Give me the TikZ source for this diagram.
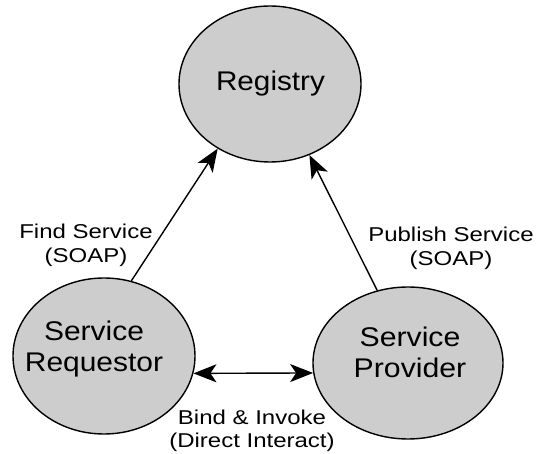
\documentclass[tikz,border=0pt]{standalone}
\usepackage{graphicx}
\usepackage{fontspec}
\setmainfont{Liberation Sans}
\usetikzlibrary{shapes.geometric,arrows.meta}
\definecolor{nodefill}{HTML}{CDCDCD}
\newcommand{\hstretch}[2]{\scalebox{#1}[1]{#2}}
\begin{document}
\begin{tikzpicture}[x=1pt,y=-1pt,
  >={Stealth[length=23pt,width=18pt,inset=6pt]},
  actor/.style={ellipse, draw=black, line width=1.4pt, fill=nodefill, inner sep=0pt},
  bigtext/.style={font=\fontsize{27}{31}\selectfont, align=center, anchor=base, inner sep=0pt},
  lbl/.style={font=\fontsize{20}{24}\selectfont, align=center, anchor=base, inner sep=0pt},
  link/.style={line width=1.4pt},
]
\useasboundingbox (0,0) rectangle (544,454);

% the three roles
\node[actor, minimum width=182pt, minimum height=156pt] (reg) at (270,84) {};
\node[actor, minimum width=182pt, minimum height=156pt] (req) at (104,356) {};
\node[actor, minimum width=190pt, minimum height=152pt] (prov) at (408,363) {};

% text anchored at the baseline of its last line
\node[bigtext] (regtxt) at (270.5,91) {\hstretch{1.1}{Registry}};
\node[bigtext] (reqtxt) at (94,372) {\hstretch{1.11}{Service}\\\hstretch{1.11}{Requestor}};
\node[bigtext] (provtxt) at (410,378) {\hstretch{1.12}{Service}\\\hstretch{1.12}{Provider}};

% interactions
\draw[link,->] (req.70) -- (reg.231);
\draw[link,->] (prov.113) -- (reg.299);
\draw[link,<->] (req.-11.5) -- (prov.186.6);

\node[lbl] (findlbl) at (86,263) {\hstretch{1.2}{Find Service}\\\hstretch{1.2}{(SOAP)}};
\node[lbl] (publbl) at (451,266) {\hstretch{1.2}{Publish Service}\\\hstretch{1.2}{(SOAP)}};
\node[lbl] (bindlbl) at (252,448) {\hstretch{1.2}{Bind \& Invoke}\\\hstretch{1.2}{(Direct Interact)}};
\end{tikzpicture}
\end{document}
